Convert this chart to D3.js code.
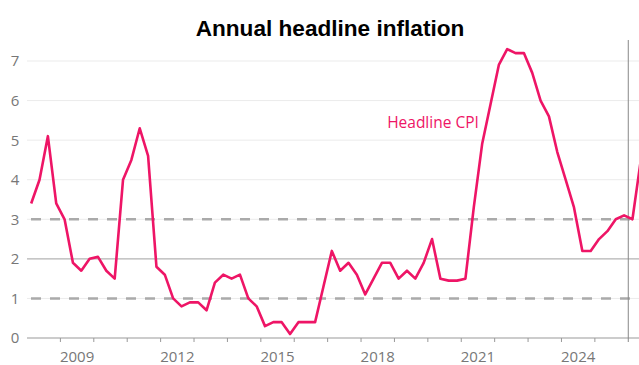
<!DOCTYPE html>
<html>
<head>
<meta charset="utf-8">
<script src="https://cdn.jsdelivr.net/npm/d3@7"></script>
<style>
  body { margin: 0; background: #fff; }
  svg { display: block; }
</style>
</head>
<body>
<div id="chart"></div>
<script>
// quarterly annual CPI, first quarter is 2008 Q1
const startYear = 2008;
const cpi = [
    3.4, 4.0, 5.1, 3.4,
    3.0, 1.9, 1.7, 2.0,
    2.05, 1.7, 1.5, 4.0,
    4.5, 5.3, 4.6, 1.8,
    1.6, 1.0, 0.8, 0.9,
    0.9, 0.7, 1.4, 1.6,
    1.5, 1.6, 1.0, 0.8,
    0.3, 0.4, 0.4, 0.1,
    0.4, 0.4, 0.4, 1.3,
    2.2, 1.7, 1.9, 1.6,
    1.1, 1.5, 1.9, 1.9,
    1.5, 1.7, 1.5, 1.9,
    2.5, 1.5, 1.45, 1.45,
    1.5, 3.3, 4.9, 5.9,
    6.9, 7.3, 7.2, 7.2,
    6.7, 6.0, 5.6, 4.7,
    4.0, 3.3, 2.2, 2.2,
    2.5, 2.7, 3.0, 3.1,
    3.0, 4.5
];
const yTicks = [0, 1, 2, 3, 4, 5, 6, 7];
const targetBand = [1, 3];
const targetMid = 2;
const yearTicks = d3.range(2009, 2026);
const yearLabels = [2009, 2012, 2015, 2018, 2021, 2024];
const markerYear = 2026;

const width = 639, height = 365;
const pink = "#ee1566";

const svg = d3.select("#chart").append("svg")
    .attr("width", width)
    .attr("height", height);

const x = d3.scaleLinear().domain([2008, 2026.33]).range([27, 639.3]);
const y = d3.scaleLinear().domain([0, 7]).range([338, 61]);

const data = cpi.map((v, i) => ({ t: startYear + i / 4 + 0.125, v: v }));

// light gridlines
svg.append("g")
    .selectAll("line")
    .data(yTicks.filter(d => d > 0 && d !== targetMid))
    .enter().append("line")
    .attr("x1", x(2008)).attr("x2", width)
    .attr("y1", d => y(d)).attr("y2", d => y(d))
    .style("stroke", "#ebebeb")
    .style("stroke-width", 1);

// target midpoint
svg.append("line")
    .attr("x1", x(2008)).attr("x2", width)
    .attr("y1", y(targetMid)).attr("y2", y(targetMid))
    .style("stroke", "#b3b3b3")
    .style("stroke-width", 1.2);

// target band
svg.append("g")
    .selectAll("line")
    .data(targetBand)
    .enter().append("line")
    .attr("x1", 31).attr("x2", width)
    .attr("y1", d => y(d)).attr("y2", d => y(d))
    .style("stroke", "#aaaaaa")
    .style("stroke-width", 2.5)
    .style("stroke-dasharray", "10,9");

// y labels
svg.append("g")
    .selectAll("text")
    .data(yTicks)
    .enter().append("text")
    .attr("x", 15)
    .attr("y", d => y(d))
    .attr("dy", "0.36em")
    .attr("text-anchor", "middle")
    .style("font-family", "Open Sans, Noto Sans, sans-serif")
    .style("font-size", "15px")
    .style("fill", "#777")
    .text(d => d);

// x axis
const xAxis = svg.append("g").attr("transform", `translate(0,${y(0)})`);
xAxis.append("line")
    .attr("x1", x(2008)).attr("x2", width)
    .style("stroke", "#999").style("stroke-width", 1.2);
xAxis.selectAll(".tick")
    .data(yearTicks)
    .enter().append("line")
    .attr("class", "tick")
    .attr("x1", d => x(d)).attr("x2", d => x(d))
    .attr("y1", 0).attr("y2", 4)
    .style("stroke", "#999");
xAxis.selectAll(".lbl")
    .data(yearLabels)
    .enter().append("text")
    .attr("class", "lbl")
    .attr("x", d => x(d + 0.5))
    .attr("y", 24)
    .attr("text-anchor", "middle")
    .style("font-family", "Open Sans, Noto Sans, sans-serif")
    .style("font-size", "15px")
    .style("fill", "#777")
    .text(d => d);

// vertical marker
svg.append("line")
    .attr("x1", x(markerYear)).attr("x2", x(markerYear))
    .attr("y1", 40).attr("y2", y(0) + 4)
    .style("stroke", "#888")
    .style("stroke-width", 1);

// CPI line
svg.append("path")
    .datum(data)
    .attr("d", d3.line().x(d => x(d.t)).y(d => y(d.v)))
    .style("fill", "none")
    .style("stroke", pink)
    .style("stroke-width", 2.6)
    .style("stroke-linejoin", "round");

svg.append("text")
    .attr("x", 433)
    .attr("y", 128)
    .attr("text-anchor", "middle")
    .style("font-family", "Open Sans, Noto Sans, sans-serif")
    .style("font-size", "15.5px")
    .style("fill", pink)
    .text("Headline CPI");

svg.append("text")
    .attr("x", 330)
    .attr("y", 36)
    .attr("text-anchor", "middle")
    .style("font-family", "Liberation Sans, Arial, sans-serif")
    .style("font-weight", "bold")
    .style("font-size", "22.6px")
    .style("fill", "#000")
    .text("Annual headline inflation");
</script>
</body>
</html>
